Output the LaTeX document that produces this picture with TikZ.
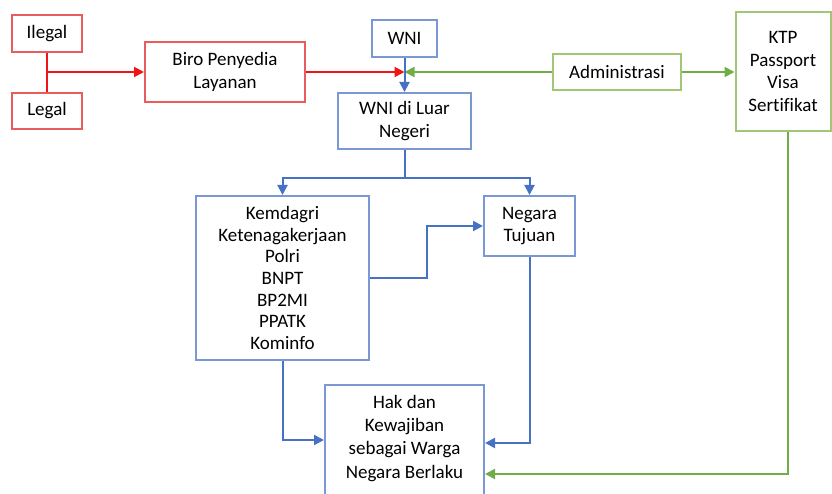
\documentclass[tikz,border=0pt]{standalone}
\usepackage{fontspec}
\setmainfont{Carlito}[Ligatures=NoCommon]
\usetikzlibrary{arrows.meta}
\definecolor{boxred}{RGB}{232,92,92}
\definecolor{linered}{RGB}{240,20,20}
\definecolor{boxblue}{RGB}{122,152,212}
\definecolor{lineblue}{RGB}{70,114,196}
\definecolor{boxgreen}{RGB}{160,198,118}
\definecolor{linegreen}{RGB}{112,173,71}
\pgfkeys{tikz/mybox/.style={draw,line width=2pt,align=center,inner sep=0pt,font=\fontsize{19}{22.5}\selectfont}}
\tikzset{
  redbox/.style={mybox,draw=boxred},
  bluebox/.style={mybox,draw=boxblue},
  greenbox/.style={mybox,draw=boxgreen},
  myline/.style={line width=2pt},
  myarrow/.style={myline,-{Triangle[length=10pt,width=10pt]}},
}

\begin{document}
\begin{tikzpicture}[x=1pt,y=-1pt]
\useasboundingbox (0,0) rectangle (832,494);

% boxes
\node [redbox,minimum width=70,minimum height=37] (ilegal) at (47,33.5) {Ilegal};
\node [redbox,minimum width=70,minimum height=36] (legal) at (47,111) {Legal};
\node [redbox,minimum width=160,minimum height=60] (biro) at (225,72) {Biro Penyedia\\Layanan};
\node [bluebox,minimum width=65,minimum height=37] (wni) at (404.5,38.5) {WNI};
\node [bluebox,minimum width=133,minimum height=56] (luar) at (404.5,121) {WNI di Luar\\Negeri};
\node [greenbox,minimum width=128,minimum height=36] (admin) at (617,72) {Administrasi};
\node [greenbox,minimum width=95,minimum height=119] (ktp) at (783,71.5) {KTP\\Passport\\Visa\\Sertifikat};
\node [bluebox,minimum width=173,minimum height=164,font=\fontsize{19}{21.7}\selectfont] (kem) at (282.5,278)
  {Kemdagri\\Ketenagakerjaan\\Polri\\BNPT\\BP2MI\\PPATK\\Kominfo};
\node [bluebox,minimum width=91,minimum height=60] (neg) at (529.5,226) {Negara\\Tujuan};
\node [bluebox,minimum width=159,inner ysep=10pt,text depth=100pt,anchor=north,font=\fontsize{19}{23.3}\selectfont] (hak) at (404.5,384)
  {Hak dan\\Kewajiban\\sebagai Warga\\Negara Berlaku};

% red side
\coordinate (join) at (ilegal.south |- biro.west);
\draw [myline,linered] (ilegal.south) -- (legal.north);
\draw [myarrow,linered] (join) -- (biro.west);
\draw [myarrow,linered] (biro.east) -- (biro.east -| wni.south);

% green side
\draw [myarrow,linegreen] (admin.west) -- (admin.west -| wni.south);
\draw [myarrow,linegreen] (admin.east) -- (admin.east -| ktp.west);
\draw [myarrow,linegreen] ([xshift=5pt]ktp.south) |- ([yshift=-90pt]hak.north east);

% blue flow
\coordinate (fork) at (404.5,178);
\draw [myarrow,lineblue] (wni.south) -- (luar.north);
\draw [myline,lineblue] (luar.south) -- (fork);
\draw [myarrow,lineblue] (fork) -| (kem.north);
\draw [myarrow,lineblue] (fork) -| (neg.north);
\draw [myarrow,lineblue] (kem.east) -- ++(57,0) |- (neg.west);
\draw [myarrow,lineblue] (kem.south) |- ([yshift=-56pt]hak.north west);
\draw [myarrow,lineblue] (neg.south) |- ([yshift=-59pt]hak.north east);

\end{tikzpicture}
\end{document}
